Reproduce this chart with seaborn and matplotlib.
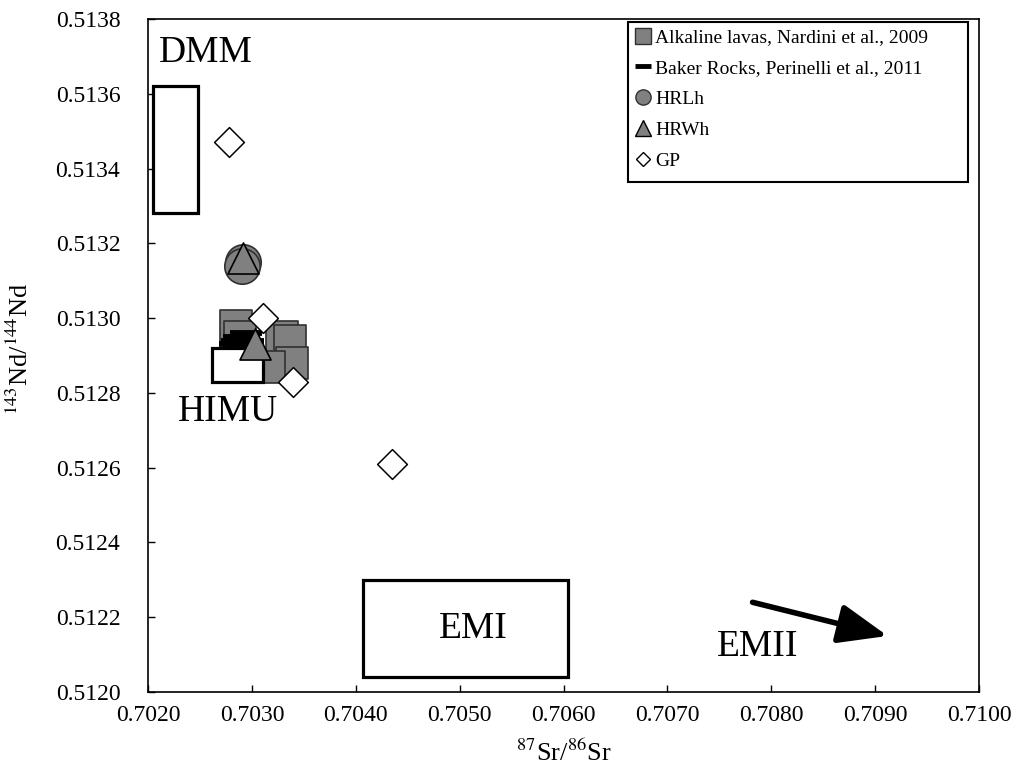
import matplotlib
matplotlib.use("Agg")
import matplotlib.pyplot as plt
import seaborn as sns
import pandas as pd
from matplotlib.lines import Line2D
from matplotlib.patches import Rectangle

# ---------------- data ----------------
alk_sr = [0.70285, 0.70289, 0.70329, 0.70337, 0.70339, 0.70316]
alk_nd = [0.51298, 0.51295, 0.51295, 0.51294, 0.51288, 0.51287]

baker_sr = [0.70294, 0.70288, 0.70286, 0.70291, 0.70296, 0.70292, 0.70284]
baker_nd = [0.51296, 0.51295, 0.51294, 0.51293, 0.51294, 0.51295, 0.51293]

hrlh_sr = [0.70291, 0.70290]
hrlh_nd = [0.51315, 0.51314]

hrwh_sr = [0.70291, 0.70303]
hrwh_nd = [0.51316, 0.51293]

gp_sr = [0.70278, 0.70311, 0.70340, 0.70435]
gp_nd = [0.51347, 0.51300, 0.51283, 0.51261]

# mantle end-member boxes: name, x0, x1, y0, y1
box_names = ["DMM", "HIMU", "EMI"]
box_x0 = [0.70205, 0.70262, 0.70407]
box_x1 = [0.70248, 0.70311, 0.70604]
box_y0 = [0.51328, 0.51283, 0.51204]
box_y1 = [0.51362, 0.51292, 0.51230]

# label positions
lab_names = ["DMM", "HIMU", "EMI", "EMII"]
lab_x = [0.70256, 0.70277, 0.70513, 0.70787]
lab_y = [0.51371, 0.51275, 0.51217, 0.51212]

# EMII arrow
arrow_start = (0.70782, 0.51224)
arrow_end = (0.70912, 0.51215)

x_ticks = [0.7020, 0.7030, 0.7040, 0.7050, 0.7060, 0.7070, 0.7080, 0.7090, 0.7100]
y_ticks = [0.5120, 0.5122, 0.5124, 0.5126, 0.5128, 0.5130, 0.5132, 0.5134, 0.5136, 0.5138]

legend_labels = ["Alkaline lavas, Nardini et al., 2009",
                 "Baker Rocks, Perinelli et al., 2011",
                 "HRLh", "HRWh", "GP"]

# ---------------- plot ----------------
sns.set_theme(style="white")
plt.rcParams["font.family"] = ["Liberation Serif", "DejaVu Serif"]
plt.rcParams["mathtext.fontset"] = "stix"
plt.rcParams["text.color"] = "black"
plt.rcParams["axes.labelcolor"] = "black"
plt.rcParams["xtick.color"] = "black"
plt.rcParams["ytick.color"] = "black"

fig = plt.figure(figsize=(10.16, 7.72), dpi=100)
ax = fig.add_axes([0.1457, 0.1036, 0.8179, 0.8718])

GRAY = "#808080"

df_alk = pd.DataFrame({"sr": alk_sr, "nd": alk_nd})
df_bak = pd.DataFrame({"sr": baker_sr, "nd": baker_nd})
df_hrl = pd.DataFrame({"sr": hrlh_sr, "nd": hrlh_nd})
df_hrw = pd.DataFrame({"sr": hrwh_sr, "nd": hrwh_nd})
df_gp = pd.DataFrame({"sr": gp_sr, "nd": gp_nd})

sns.scatterplot(data=df_alk, x="sr", y="nd", marker="s", s=560, color=GRAY,
                edgecolor="#303030", linewidth=1.2, ax=ax, zorder=2, legend=False)
sns.scatterplot(data=df_bak, x="sr", y="nd", marker="_", s=560, color="black",
                linewidth=4.2, ax=ax, zorder=3, legend=False)

for i, name in enumerate(box_names):
    r = Rectangle((box_x0[i], box_y0[i]), box_x1[i] - box_x0[i], box_y1[i] - box_y0[i],
                  facecolor="white", edgecolor="black", linewidth=2.3,
                  zorder=4 if name == "HIMU" else 1)
    ax.add_patch(r)

sns.scatterplot(data=df_hrl, x="sr", y="nd", marker="o", s=650, color=GRAY,
                edgecolor="#303030", linewidth=1.2, ax=ax, zorder=5, legend=False)
sns.scatterplot(data=df_hrw, x="sr", y="nd", marker="^", s=500, color=GRAY,
                edgecolor="black", linewidth=1.2, ax=ax, zorder=6, legend=False)
sns.scatterplot(data=df_gp, x="sr", y="nd", marker="D", s=230, color="white",
                edgecolor="black", linewidth=1.1, ax=ax, zorder=7, legend=False)

for name, x, y in zip(lab_names, lab_x, lab_y):
    ax.text(x, y, name, fontsize=27, ha="center", va="center", color="black", zorder=8)

ax.annotate("", xy=arrow_end, xytext=arrow_start,
            arrowprops=dict(arrowstyle="-|>,head_length=1.0,head_width=0.4",
                            lw=4, color="black", mutation_scale=30, shrinkA=0, shrinkB=0))

ax.set_xlim(0.7020, 0.7100)
ax.set_ylim(0.5120, 0.5138)
ax.set_xticks(x_ticks)
ax.set_xticklabels([f"{v:.4f}" for v in x_ticks])
ax.set_yticks(y_ticks)
ax.set_yticklabels([f"{v:.4f}" for v in y_ticks])
ax.tick_params(axis="both", direction="in", length=5, width=1, colors="black", labelsize=17)
ax.tick_params(axis="y", pad=20)
ax.tick_params(axis="x", pad=9)
ax.tick_params(bottom=True, left=True)
for sp in ax.spines.values():
    sp.set_color("black")
    sp.set_linewidth(1.2)

ax.set_xlabel(r"$^{87}$Sr/$^{86}$Sr", fontsize=19, labelpad=10)
ax.set_ylabel(r"$^{143}$Nd/$^{144}$Nd", fontsize=19)
ax.yaxis.set_label_coords(-0.138, 0.51)

# legend frame drawn as a rectangle in axes coordinates
frame = Rectangle((0.5776, 0.7578), 0.4092, 0.2377, transform=ax.transAxes,
                  facecolor="white", edgecolor="black", linewidth=1.5, zorder=9)
ax.add_patch(frame)

handles = [
    Line2D([], [], marker="s", linestyle="None", markersize=11, markerfacecolor=GRAY,
           markeredgecolor="#303030", markeredgewidth=1),
    Line2D([], [], marker="_", linestyle="None", markersize=11, color="black", markeredgewidth=3.5),
    Line2D([], [], marker="o", linestyle="None", markersize=11, markerfacecolor=GRAY,
           markeredgecolor="#303030", markeredgewidth=1),
    Line2D([], [], marker="^", linestyle="None", markersize=11, markerfacecolor=GRAY,
           markeredgecolor="black", markeredgewidth=1),
    Line2D([], [], marker="D", linestyle="None", markersize=7.5, markerfacecolor="white",
           markeredgecolor="black", markeredgewidth=1),
]
leg = ax.legend(handles, legend_labels, loc="upper left", bbox_to_anchor=(0.5776, 0.9955),
                borderaxespad=0, fontsize=14, frameon=False,
                handlelength=0.8, handletextpad=0.25, labelspacing=0.68,
                borderpad=0.35)
leg.set_zorder(10)
for t in leg.get_texts():
    t.set_color("black")

fig.savefig("out.png", dpi=100, facecolor="white")
